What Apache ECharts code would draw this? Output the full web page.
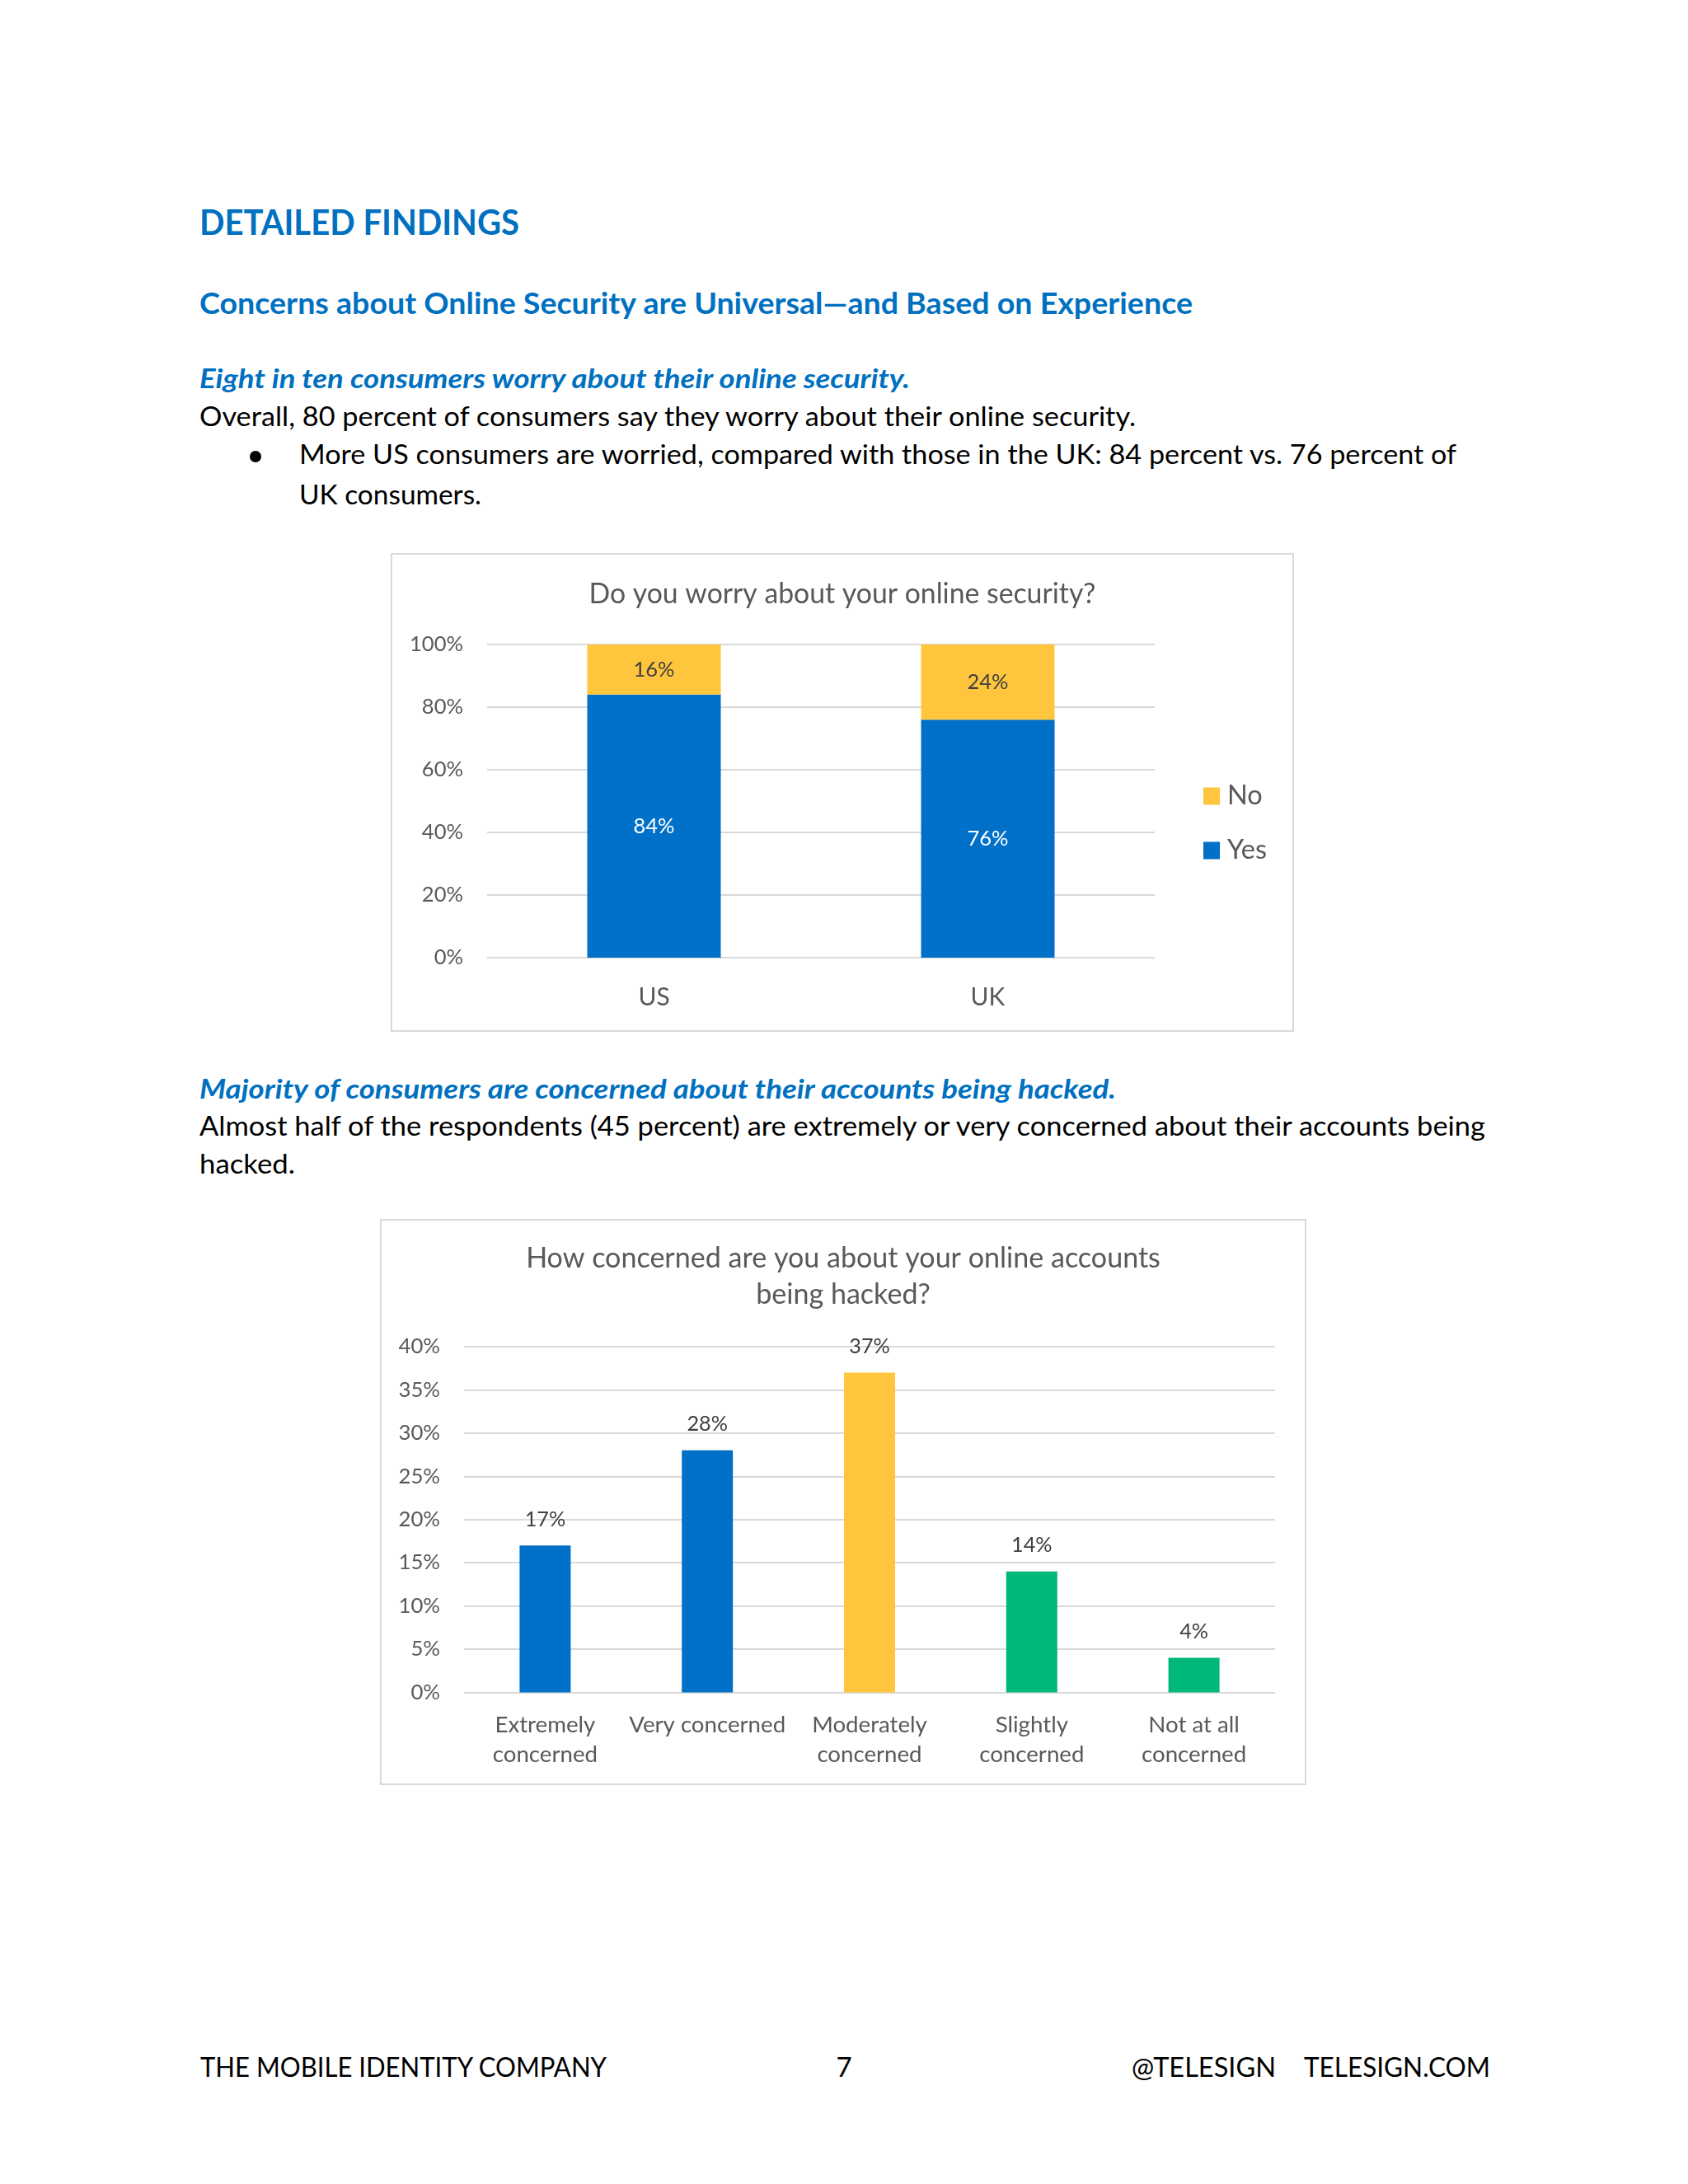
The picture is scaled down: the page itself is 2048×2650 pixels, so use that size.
<!DOCTYPE html>
<html>
<head>
<meta charset="utf-8">
<script src="https://cdn.jsdelivr.net/npm/echarts/dist/echarts.min.js"></script>
<style>
  html, body { margin: 0; padding: 0; background: #ffffff; }
  body { width: 2048px; height: 2650px; position: relative; overflow: hidden; }
  #page { position: absolute; left: 0; top: 0; }
  #c1 { position: absolute; left: 474px; top: 671px; width: 1096px; height: 581px; }
  #c2 { position: absolute; left: 461px; top: 1479px; width: 1124px; height: 687px; }
  svg text { font-family: Lato, "Open Sans", sans-serif; }
</style>
</head>
<body>
<svg id="page" width="2048" height="2650" xmlns="http://www.w3.org/2000/svg">
  <text x="242" y="285" font-size="41.7" font-weight="700" fill="#0070C0" textLength="388" lengthAdjust="spacingAndGlyphs">DETAILED FINDINGS</text>
  <text x="242" y="381" font-size="36" font-weight="700" fill="#0070C0" textLength="1205" lengthAdjust="spacingAndGlyphs">Concerns about Online Security are Universal—and Based on Experience</text>
  <text x="242" y="471" font-size="33" font-weight="700" font-style="italic" fill="#0070C0" textLength="862" lengthAdjust="spacingAndGlyphs">Eight in ten consumers worry about their online security.</text>
  <text x="242" y="516.5" font-size="33" fill="#000000" textLength="1136" lengthAdjust="spacingAndGlyphs">Overall, 80 percent of consumers say they worry about their online security.</text>
  <circle cx="310" cy="554" r="7" fill="#000000"/>
  <text x="363" y="563" font-size="33" fill="#000000" textLength="1404" lengthAdjust="spacingAndGlyphs">More US consumers are worried, compared with those in the UK: 84 percent vs. 76 percent of</text>
  <text x="363" y="612" font-size="33" fill="#000000" textLength="221" lengthAdjust="spacingAndGlyphs">UK consumers.</text>
  <text x="242" y="1333" font-size="33" font-weight="700" font-style="italic" fill="#0070C0" textLength="1112" lengthAdjust="spacingAndGlyphs">Majority of consumers are concerned about their accounts being hacked.</text>
  <text x="242" y="1378" font-size="33" fill="#000000" textLength="1560" lengthAdjust="spacingAndGlyphs">Almost half of the respondents (45 percent) are extremely or very concerned about their accounts being</text>
  <text x="242" y="1424" font-size="33" fill="#000000" textLength="116" lengthAdjust="spacingAndGlyphs">hacked.</text>
  <text x="243" y="2520" font-size="33" fill="#000000" textLength="493" lengthAdjust="spacingAndGlyphs">THE MOBILE IDENTITY COMPANY</text>
  <text x="1024" y="2520" font-size="33" fill="#000000" text-anchor="middle">7</text>
  <text x="1373" y="2520" font-size="33" fill="#000000" textLength="175" lengthAdjust="spacingAndGlyphs">@TELESIGN</text>
  <text x="1582" y="2520" font-size="33" fill="#000000" textLength="226" lengthAdjust="spacingAndGlyphs">TELESIGN.COM</text>
</svg>
<div id="c1"></div>
<div id="c2"></div>
<script>
// ---------- data ----------
const worryCategories = ['US', 'UK'];
const worryYes = [84, 76];
const worryNo = [16, 24];
const worrySeriesNames = ['Yes', 'No'];

const hackCategories = ['Extremely\nconcerned', 'Very concerned', 'Moderately\nconcerned', 'Slightly\nconcerned', 'Not at all\nconcerned'];
const hackValues = [17, 28, 37, 14, 4];

// ---------- styles ----------
const BLUE = '#0070C8', YELLOW = '#FFC53D', GREEN = '#00B877';
const hackColors = [BLUE, BLUE, YELLOW, GREEN, GREEN];
const FONT = 'Lato';
const AXIS_TXT = '#595959', LABEL_TXT = '#404040', GRID = '#D9D9D9';

const mctx = document.createElement('canvas').getContext('2d');
function fit(text, target, weight) {
  mctx.font = (weight || 'normal') + ' 100px ' + FONT;
  return +(100 * target / mctx.measureText(text).width).toFixed(2);
}

// ---------- chart 1 ----------
const t1 = fit('Do you worry about your online security?', 615);
const y1 = fit('100%', 65);
const d1 = fit('16%', 50);
const x1 = fit('USUK', 80);
const lg1 = fit('Yes', 48);

const chart1 = echarts.init(document.getElementById('c1'));
chart1.setOption({
  animation: false,
  textStyle: { fontFamily: FONT },
  graphic: [{ type: 'rect', shape: { x: 1, y: 1, width: 1094, height: 579 },
              style: { fill: 'none', stroke: GRID, lineWidth: 2 } }],
  title: {
    text: 'Do you worry about your online security?',
    left: 'center', top: 25,
    textStyle: { fontFamily: FONT, fontSize: t1, fontWeight: 'normal', color: AXIS_TXT, lineHeight: 40 }
  },
  legend: {
    orient: 'vertical', left: 981, top: 273.5,
    itemWidth: 20, itemHeight: 21, itemGap: 33, icon: 'rect',
    data: [worrySeriesNames[1], worrySeriesNames[0]],
    textStyle: { fontFamily: FONT, fontSize: lg1, color: AXIS_TXT, lineHeight: 21, padding: [0, 0, 0, 4] }
  },
  grid: { left: 117, right: 169, top: 111, bottom: 90 },
  xAxis: {
    type: 'category', data: worryCategories,
    axisLine: { show: false }, axisTick: { show: false },
    axisLabel: { fontFamily: FONT, fontSize: x1, color: AXIS_TXT, lineHeight: x1, margin: 48 - x1 / 2 }
  },
  yAxis: {
    type: 'value', min: 0, max: 100, interval: 20,
    axisLine: { show: false }, axisTick: { show: false },
    axisLabel: { fontFamily: FONT, fontSize: y1, color: AXIS_TXT, margin: 29, formatter: '{value}%' },
    splitLine: { lineStyle: { color: GRID, width: 2 } }
  },
  series: [
    { name: worrySeriesNames[0], type: 'bar', stack: 'all', data: worryYes, barWidth: '40%',
      itemStyle: { color: BLUE },
      label: { show: true, position: 'inside', formatter: '{c}%', color: '#ffffff', fontFamily: FONT, fontSize: d1 } },
    { name: worrySeriesNames[1], type: 'bar', stack: 'all', data: worryNo, barWidth: '40%',
      itemStyle: { color: YELLOW },
      label: { show: true, position: 'inside', formatter: '{c}%', color: LABEL_TXT, fontFamily: FONT, fontSize: d1 } }
  ]
});

// ---------- chart 2 ----------
const t2 = fit('How concerned are you about your online accounts', 770);
const y2 = fit('40%', 50.5);
const d2 = fit('17%', 49.5);
const x2 = fit('Very concerned', 190);

const chart2 = echarts.init(document.getElementById('c2'));
chart2.setOption({
  animation: false,
  textStyle: { fontFamily: FONT },
  graphic: [{ type: 'rect', shape: { x: 1, y: 1, width: 1122, height: 685 },
              style: { fill: 'none', stroke: GRID, lineWidth: 2 } }],
  title: {
    text: 'How concerned are you about your online accounts\nbeing hacked?',
    left: 'center', top: 21,
    textStyle: { fontFamily: FONT, fontSize: t2, fontWeight: 'normal', color: AXIS_TXT, lineHeight: 44 }
  },
  grid: { left: 102, right: 38, top: 155, bottom: 112.5 },
  xAxis: {
    type: 'category', data: hackCategories,
    axisLine: { show: false }, axisTick: { show: false },
    axisLabel: { fontFamily: FONT, fontSize: x2, color: AXIS_TXT, lineHeight: 35.4, margin: 22, interval: 0 }
  },
  yAxis: {
    type: 'value', min: 0, max: 40, interval: 5,
    axisLine: { show: false }, axisTick: { show: false },
    axisLabel: { fontFamily: FONT, fontSize: y2, color: AXIS_TXT, margin: 29, formatter: '{value}%' },
    splitLine: { lineStyle: { color: GRID, width: 2 } }
  },
  series: [{
    type: 'bar', barWidth: '31.5%',
    data: hackValues.map((v, i) => ({ value: v, itemStyle: { color: hackColors[i] } })),
    label: { show: true, position: 'top', distance: 31.5 - d2 / 2, formatter: '{c}%',
             color: LABEL_TXT, fontFamily: FONT, fontSize: d2, lineHeight: d2 }
  }]
});
</script>
</body>
</html>
